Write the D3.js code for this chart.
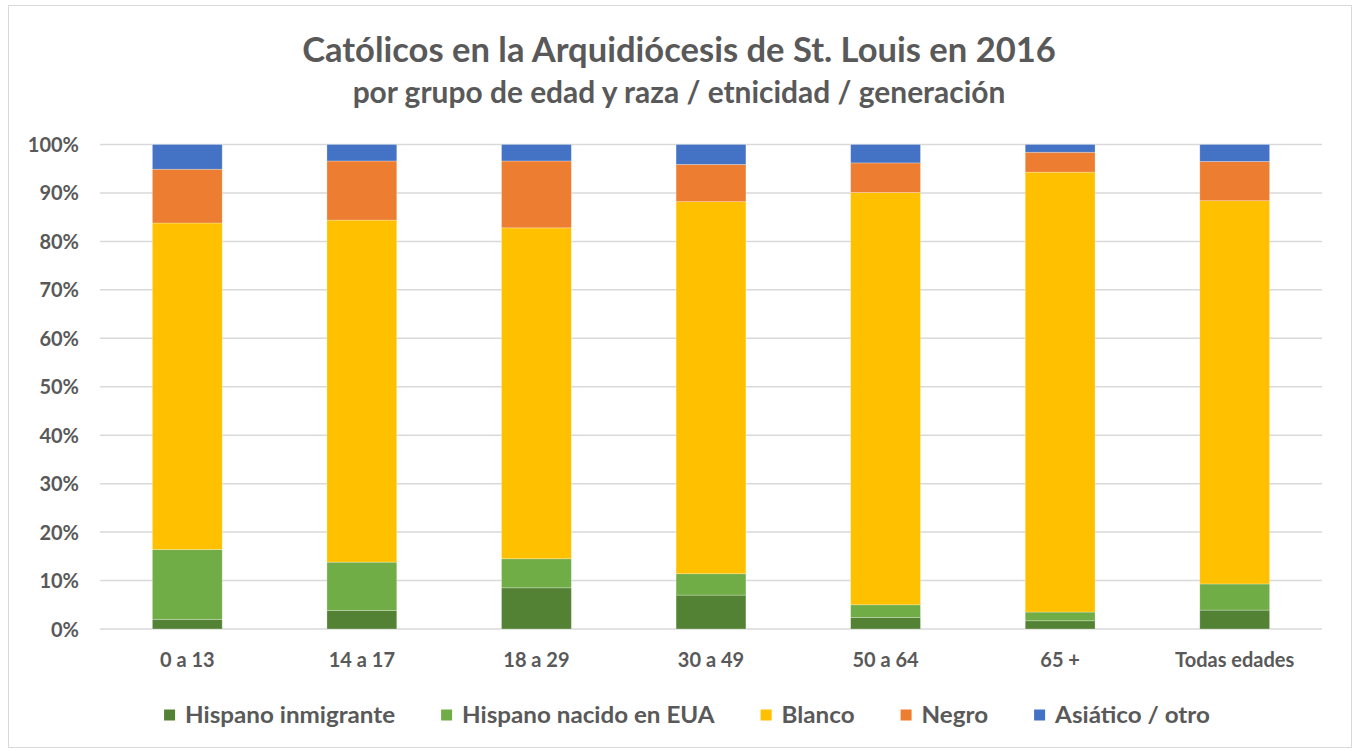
<!DOCTYPE html>
<html>
<head>
<meta charset="utf-8">
<script src="https://cdn.jsdelivr.net/npm/d3@7/dist/d3.min.js"></script>
<style>
  html, body { margin: 0; padding: 0; background: #fff; }
  svg text { font-family: Lato, "Open Sans", "Liberation Sans", sans-serif; font-weight: bold; fill: #595959; }
</style>
</head>
<body>
<svg id="chart" width="1353" height="751"></svg>
<script>
// ---- data ----
const categories = ["0 a 13", "14 a 17", "18 a 29", "30 a 49", "50 a 64", "65 +", "Todas edades"];
const seriesNames = ["Hispano inmigrante", "Hispano nacido en EUA", "Blanco", "Negro", "Asiático / otro"];
const hispanoInmigrante = [2.0, 3.8, 8.5, 7.0, 2.4, 1.7, 3.9];
const hispanoNacido     = [14.4, 10.0, 6.0, 4.4, 2.6, 1.8, 5.4];
const blanco            = [67.4, 70.6, 68.3, 76.8, 85.1, 90.8, 79.1];
const negro             = [11.1, 12.2, 13.8, 7.7, 6.1, 4.1, 8.1];
const asiatico          = [5.1, 3.4, 3.4, 4.1, 3.8, 1.6, 3.5];
const yTicks = [0, 10, 20, 30, 40, 50, 60, 70, 80, 90, 100];
const titleText = "Católicos en la Arquidiócesis de St. Louis en 2016";
const subtitleText = "por grupo de edad y raza / etnicidad / generación";

const colors = ["#548235", "#70AD47", "#FFC000", "#ED7D31", "#4472C4"];
const seriesValues = [hispanoInmigrante, hispanoNacido, blanco, negro, asiatico];

const W = 1353, H = 751;
const plot = { left: 100, right: 1322, top: 144.5, bottom: 629 };

const svg = d3.select("#chart");

// chart border
svg.append("rect").attr("x", 8.5).attr("y", 5.5).attr("width", W - 10).attr("height", H - 9)
  .attr("fill", "#fff").attr("stroke", "#d9d9d9").attr("stroke-width", 1);

// fit text to a target width helper
function fitText(sel, targetW, startSize) {
  sel.style("font-size", startSize + "px");
  const w = sel.node().getComputedTextLength();
  sel.style("font-size", (startSize * targetW / w) + "px");
}

// titles
const title = svg.append("text").attr("x", 679).attr("y", 62).attr("text-anchor", "middle").text(titleText);
fitText(title, 754, 30);
const sub = svg.append("text").attr("x", 679).attr("y", 103).attr("text-anchor", "middle").text(subtitleText);
fitText(sub, 653, 24);

// scales
const x = d3.scaleBand().domain(categories).range([plot.left, plot.right]).paddingInner(0.6).paddingOuter(0.3);
const y = d3.scaleLinear().domain([0, 100]).range([plot.bottom, plot.top]);

// grid
svg.append("g").selectAll("line").data(yTicks).join("line")
  .attr("x1", plot.left).attr("x2", plot.right)
  .attr("y1", d => y(d)).attr("y2", d => y(d))
  .attr("stroke", "#d9d9d9").attr("stroke-width", 1.5);

// y axis labels
const yAxis = d3.axisLeft(y).tickValues(yTicks).tickFormat(d => d + "%").tickSize(0).tickPadding(0);
const gy = svg.append("g").attr("transform", `translate(79,0)`).call(yAxis);
gy.select(".domain").remove();
gy.selectAll("text").style("font-size", "20px").attr("dy", "0.35em").style("fill", "#595959")
  .style("font-family", null);

// stack
const rows = categories.map((c, i) => {
  const r = { cat: c };
  seriesNames.forEach((s, j) => r[s] = seriesValues[j][i]);
  return r;
});
const stack = d3.stack().keys(seriesNames)(rows);

svg.append("g").selectAll("g").data(stack).join("g")
  .attr("fill", (d, i) => colors[i])
  .selectAll("rect").data(d => d).join("rect")
  .attr("x", d => x(d.data.cat))
  .attr("width", x.bandwidth())
  .attr("y", d => y(d[1]))
  .attr("height", d => y(d[0]) - y(d[1]))
  .attr("stroke", "#ffffff").attr("stroke-opacity", 0.35).attr("stroke-width", 0.75);

// x axis labels
const xAxis = d3.axisBottom(x).tickSize(0).tickPadding(0);
const gx = svg.append("g").attr("transform", `translate(0,660)`).call(xAxis);
gx.select(".domain").remove();
gx.selectAll("text").style("font-size", "20px").attr("dy", "0.35em").style("fill", "#595959")
  .style("font-family", null);

// legend
const stretch = 1.1;
const legend = svg.append("g");
const items = legend.selectAll("g").data(seriesNames).join("g");
items.append("rect").attr("width", 11).attr("height", 11).attr("y", -5.5).attr("fill", (d, i) => colors[i]);
items.append("text").attr("transform", `translate(21,0) scale(${stretch},1)`).attr("dy", "0.35em")
  .style("font-size", "22px").text(d => d);
let cx = 0;
const gap = 46;
items.each(function () {
  const g = d3.select(this);
  g.attr("transform", `translate(${cx},715)`);
  cx += 21 + stretch * g.select("text").node().getComputedTextLength() + gap;
});
const totalW = cx - gap;
legend.attr("transform", `translate(${687 - totalW / 2},0)`);
</script>
</body>
</html>
